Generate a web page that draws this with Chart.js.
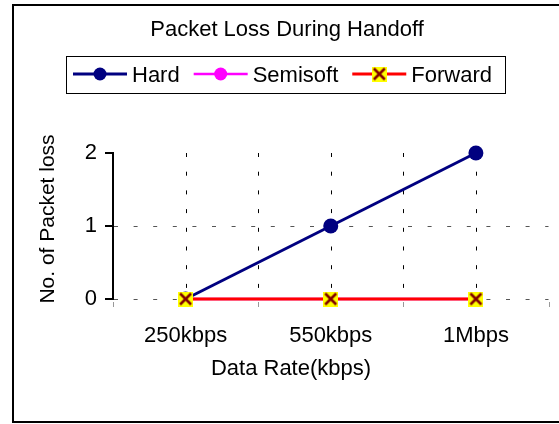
<!DOCTYPE html>
<html>
<head>
<meta charset="utf-8">
<script src="https://cdn.jsdelivr.net/npm/chart.js@4.4.1/dist/chart.umd.min.js"></script>
<style>
  html, body { margin:0; padding:0; background:#fff; }
  canvas { display:block; }
</style>
</head>
<body>
<canvas id="chart" width="559" height="424"></canvas>
<script>
// values
const rateLabels = ["250kbps", "550kbps", "1Mbps"];
const hardLoss = [0, 1, 2];
const semisoftLoss = [0, 0, 0];
const forwardLoss = [0, 0, 0];
const lossMin = 0, lossMax = 2, lossStep = 1;

const FONT = '"Liberation Sans", Arial, sans-serif';

// yellow square with a dark red cross, used for Forward points
function crossMarker(){
  const c = document.createElement("canvas");
  c.width = 15; c.height = 15;
  const g = c.getContext("2d");
  g.fillStyle = "#ffff00";
  g.fillRect(0, 0, 15, 15);
  g.strokeStyle = "#800000";
  g.lineWidth = 2.6;
  g.beginPath();
  g.moveTo(2, 2); g.lineTo(13, 13);
  g.moveTo(13, 2); g.lineTo(2, 13);
  g.stroke();
  return c;
}
const fwdMarker = crossMarker();

const excelLook = {
  id: "excelLook",
  beforeDraw(chart){
    const ctx = chart.ctx;
    ctx.save();
    ctx.fillStyle = "#fff";
    ctx.fillRect(0, 0, chart.width, chart.height);
    ctx.restore();
  },
  beforeDatasetsDraw(chart){
    const {ctx, chartArea: a, scales: {x, y}} = chart;
    ctx.save();
    // horizontal dotted gridlines (not on top value)
    ctx.strokeStyle = "#555";
    ctx.lineWidth = 1;
    ctx.setLineDash([4, 15.6]);
    y.ticks.forEach(t => {
      if (t.value === lossMax) return;
      const py = Math.round(y.getPixelForValue(t.value)) + 0.5;
      ctx.beginPath(); ctx.moveTo(a.left + 1, py); ctx.lineTo(a.right, py); ctx.stroke();
    });
    // vertical dotted gridlines at category centres and inner boundaries
    ctx.strokeStyle = "#000";
    ctx.setLineDash([4, 14.7]);
    const xs = [];
    rateLabels.forEach((_, i) => {
      xs.push(x.getPixelForValue(i));
      if (i < rateLabels.length - 1) xs.push((x.getPixelForValue(i) + x.getPixelForValue(i + 1)) / 2);
    });
    xs.forEach(px => {
      const p = Math.round(px) + 0.5;
      ctx.beginPath(); ctx.moveTo(p, a.top); ctx.lineTo(p, a.bottom); ctx.stroke();
    });
    // y tick stubs
    ctx.setLineDash([]);
    ctx.lineWidth = 2;
    y.ticks.forEach(t => {
      const py = Math.round(y.getPixelForValue(t.value));
      ctx.beginPath(); ctx.moveTo(a.left - 8, py); ctx.lineTo(a.left, py); ctx.stroke();
    });
    // x tick marks at category boundaries
    ctx.strokeStyle = "#999";
    ctx.lineWidth = 1;
    const step = x.getPixelForValue(1) - x.getPixelForValue(0);
    for (let i = 0; i <= rateLabels.length; i++){
      const p = Math.round(x.getPixelForValue(0) - step / 2 + i * step) + 0.5;
      ctx.beginPath(); ctx.moveTo(p, a.bottom + 3); ctx.lineTo(p, a.bottom + 8); ctx.stroke();
    }
    ctx.restore();
  },
  afterDraw(chart){
    const ctx = chart.ctx;
    ctx.save();
    // outer frame
    ctx.strokeStyle = "#000";
    ctx.lineWidth = 2;
    ctx.strokeRect(13, 5, 560, 417);

    ctx.fillStyle = "#000";
    ctx.textBaseline = "alphabetic";
    ctx.textAlign = "center";
    ctx.font = "22px " + FONT;
    ctx.fillText("Packet Loss During Handoff", 287, 36);
    ctx.fillText("Data Rate(kbps)", 291, 375);

    ctx.save();
    ctx.translate(54, 219);
    ctx.rotate(-Math.PI / 2);
    ctx.font = "21px " + FONT;
    ctx.fillText("No. of Packet loss", 0, 0);
    ctx.restore();

    // legend box
    ctx.lineWidth = 1;
    ctx.strokeRect(66.5, 56.5, 439, 37);
    ctx.font = "22px " + FONT;
    ctx.textAlign = "left";
    let lx = 73;
    const ly = 74;
    chart.data.datasets.forEach(ds => {
      ctx.strokeStyle = ds.borderColor;
      ctx.lineWidth = ds.borderWidth;
      ctx.beginPath(); ctx.moveTo(lx, ly); ctx.lineTo(lx + 54, ly); ctx.stroke();
      const mx = lx + 27;
      if (ds.pointStyle === "circle"){
        ctx.fillStyle = ds.pointBackgroundColor;
        ctx.beginPath(); ctx.arc(mx, ly, 6.5, 0, Math.PI * 2); ctx.fill();
      } else {
        ctx.drawImage(ds.pointStyle, mx - 7.5, ly - 7.5);
      }
      ctx.fillStyle = "#000";
      ctx.fillText(ds.label, lx + 59, 82);
      lx += 59 + ctx.measureText(ds.label).width + 14;
    });
    ctx.restore();
  }
};

new Chart(document.getElementById("chart"), {
  type: "line",
  data: {
    labels: rateLabels,
    datasets: [
      { label: "Hard", data: hardLoss, borderColor: "#000080", borderWidth: 3,
        pointStyle: "circle", pointRadius: 7.5, pointBackgroundColor: "#000080",
        pointBorderColor: "#000080", pointBorderWidth: 0, order: 3 },
      { label: "Semisoft", data: semisoftLoss, borderColor: "#ff00ff", borderWidth: 2.6,
        pointStyle: "circle", pointRadius: 6.5, pointBackgroundColor: "#ff00ff",
        pointBorderColor: "#ff00ff", pointBorderWidth: 0, order: 2 },
      { label: "Forward", data: forwardLoss, borderColor: "#ff0000", borderWidth: 3,
        pointStyle: fwdMarker, pointRadius: 7.5, order: 1 }
    ]
  },
  options: {
    responsive: false,
    animation: false,
    clip: false,
    layout: { padding: { left: 0, top: 153, right: 8, bottom: 0 } },
    plugins: { legend: { display: false }, title: { display: false }, tooltip: { enabled: false } },
    scales: {
      x: {
        type: "category",
        offset: true,
        afterFit(s){ s.height = 125; },
        grid: { display: false, drawTicks: false },
        border: { display: false },
        ticks: { color: "#000", padding: 24, font: { family: FONT, size: 22 }, maxRotation: 0 }
      },
      y: {
        min: lossMin, max: lossMax,
        afterFit(s){ s.width = 113; },
        grid: { display: false, drawTicks: false },
        border: { display: true, color: "#000", width: 2 },
        ticks: { stepSize: lossStep, color: "#000", padding: 16, font: { family: FONT, size: 22 } }
      }
    }
  },
  plugins: [excelLook]
});
</script>
</body>
</html>
